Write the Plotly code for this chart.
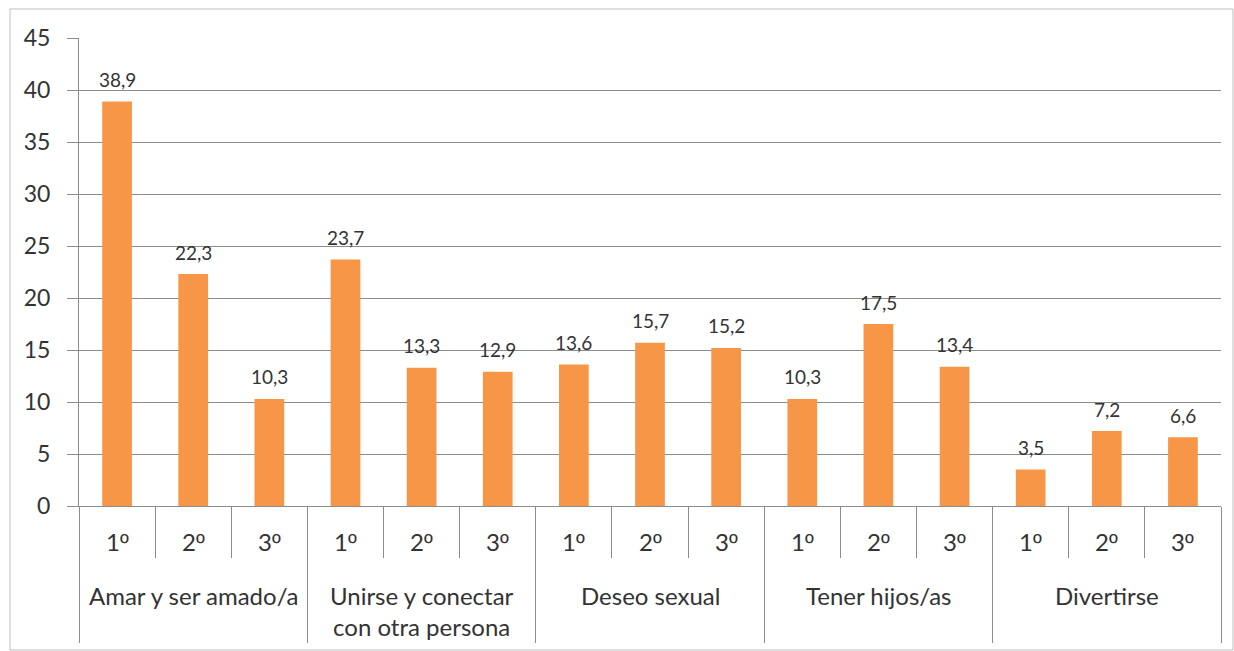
import plotly.graph_objects as go

groups = ["Amar y ser amado/a", "Unirse y conectar<br>con otra persona", "Deseo sexual", "Tener hijos/as", "Divertirse"]
ranks = ["1º", "2º", "3º"]
values = [
    [38.9, 22.3, 10.3],
    [23.7, 13.3, 12.9],
    [13.6, 15.7, 15.2],
    [10.3, 17.5, 13.4],
    [3.5, 7.2, 6.6],
]
y_ticks = [0, 5, 10, 15, 20, 25, 30, 35, 40, 45]

n_r = len(ranks)
xs, ys, inner, labels = [], [], [], []
for gi, vals in enumerate(values):
    for ri, v in enumerate(vals):
        xs.append(gi * n_r + ri)
        ys.append(v)
        inner.append(ranks[ri])
        labels.append(f"{v:.1f}".replace(".", ","))

FONT = "Lato, Open Sans, sans-serif"
TXT = "#333333"
GRID = "#8C8C8C"


def rank_html(t):
    # ordinal indicator drawn in a font whose º glyph is underlined, as in the original
    return t.replace("º", "<span style=\"font-family:'Liberation Sans'\">º</span>")


fig = go.Figure(go.Bar(
    x=xs, y=ys,
    marker=dict(color="#F79646", line=dict(width=0)),
    width=0.39,
    hoverinfo="skip",
))

ann = []
for x, v, t in zip(xs, ys, labels):
    ann.append(dict(x=x, y=v, xref="x", yref="y", text=t, showarrow=False,
                    yanchor="middle", yshift=22,
                    font=dict(family=FONT, size=19, color=TXT)))
for x, t in zip(xs, inner):
    ann.append(dict(x=x, y=0, xref="x", yref="paper", text=rank_html(t), showarrow=False,
                    yanchor="middle", yshift=-35,
                    font=dict(family=FONT, size=24, color=TXT)))
for gi, g in enumerate(groups):
    ann.append(dict(x=gi * n_r + (n_r - 1) / 2, y=0, xref="x", yref="paper", text=g,
                    showarrow=False, yanchor="top", yshift=-73, align="center",
                    font=dict(family=FONT, size=24, color=TXT)))

n_total = len(xs)
fig.update_layout(
    width=1234, height=651,
    margin=dict(l=79, r=13, t=38, b=145),
    paper_bgcolor="white", plot_bgcolor="white",
    showlegend=False,
    font=dict(family=FONT, color=TXT),
    annotations=ann,
    shapes=[dict(type="rect", xref="paper", yref="paper",
                 x0=-0.0604, x1=1.0105, y0=-0.3077, y1=1.062,
                 line=dict(color="#BFBFBF", width=1), fillcolor="rgba(0,0,0,0)", layer="below")],
)
fig.update_xaxes(
    range=[-0.5, n_total - 0.5],
    showline=True, linecolor=GRID, linewidth=1,
    showgrid=False, zeroline=False, showticklabels=False,
    tickmode="array", tickvals=[gi * n_r - 0.5 for gi in range(len(groups) + 1)],
    ticks="outside", ticklen=136, tickcolor=GRID, tickwidth=1,
    minor=dict(tickmode="linear", tick0=-0.5, dtick=1, ticks="outside",
               ticklen=51, tickcolor=GRID, tickwidth=1, showgrid=False),
    automargin=False,
)
fig.update_yaxes(
    range=[0, 45], tickmode="array", tickvals=y_ticks,
    showline=True, linecolor=GRID, linewidth=1,
    showgrid=True, gridcolor=GRID, gridwidth=1,
    ticks="outside", ticklen=11, tickcolor=GRID,
    ticklabelstandoff=12,
    tickfont=dict(family=FONT, size=23, color=TXT),
    zeroline=False, automargin=False,
)
fig.write_html("out.html", config={"displayModeBar": False},
               post_script="document.body.style.margin='0';document.body.style.overflow='hidden';")
